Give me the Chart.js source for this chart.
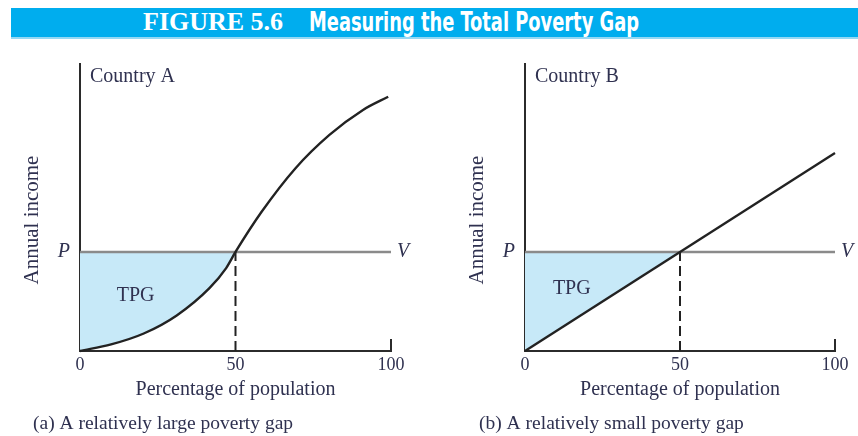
<!DOCTYPE html>
<html><head><meta charset="utf-8">
<script src="https://cdn.jsdelivr.net/npm/chart.js@4.4.1/dist/chart.umd.min.js"></script>
<style>
html,body{margin:0;padding:0;background:#fff;}
#wrap{position:relative;width:858px;height:436px;overflow:hidden;background:#fff;}
#banner{position:absolute;left:11px;top:8px;width:847px;height:29px;background:#00adee;border-bottom:2px solid #94d8f4;}
.bt{position:absolute;color:#fff;white-space:nowrap;line-height:26px;}
#fig{left:143px;top:7px;font:bold 26px "Liberation Serif",serif;}
#ttl{left:309px;top:7px;font:bold 26px "Liberation Sans Narrow","DejaVu Sans Condensed","Liberation Sans",sans-serif;transform-origin:0 50%;}
canvas{position:absolute;top:0;}
</style></head>
<body><div id="wrap">
<div id="banner"></div>
<span class="bt" id="fig">FIGURE 5.6</span>
<span class="bt" id="ttl">Measuring the Total Poverty Gap</span>
<canvas id="cA" width="429" height="436" style="left:0"></canvas>
<canvas id="cB" width="429" height="436" style="left:429px"></canvas>
</div>
<script>
// ---- data ----
const xTickValues = [0, 50, 100];
const povertyLine = 34.5;          // P
const povertyShare = 50;           // % of population below P
const lineEndsX = [0, 100];
const popA = [0, 10, 20.5, 31.1, 41.7, 47, 50, 58.4, 69.3, 80.2, 91, 99.1];
const incomeA = [0, 2.3, 6.1, 12.4, 22.0, 28.9, 34.5, 48.5, 63.7, 75.3, 84.0, 88.6];
const popB = [0, 50, 100];
const incomeB = [0, 34.5, 69];

// ---- styles ----
const TEXT = '#2f3150';
const AXIS = '#2b2b2b';
const FILL = '#c7e9f8';
const SERIF = '"Liberation Serif", "Times New Roman", serif';

// scale banner title to width
(function(){
  const t = document.getElementById('ttl');
  const w = t.getBoundingClientRect().width;
  t.style.transform = 'scaleX(' + (330 / w) + ')';
})();

function pts(xs, ys){ return xs.map((x,i)=>({x, y: ys[i]})); }

const annot = {
  id: 'annot',
  afterDraw(chart, args, o) {
    const {ctx, chartArea: ca, scales: {x, y}} = chart;
    ctx.save();
    // closing tick at 100
    ctx.strokeStyle = AXIS; ctx.lineWidth = 2;
    const px = Math.round(x.getPixelForValue(100));
    ctx.beginPath(); ctx.moveTo(px, ca.bottom + 1); ctx.lineTo(px, ca.bottom - 12); ctx.stroke();
    ctx.fillStyle = TEXT;
    ctx.textAlign = 'left'; ctx.textBaseline = 'alphabetic';
    ctx.font = '20px ' + SERIF;
    ctx.fillText(o.country, ca.left + 10, ca.top + 18);
    ctx.fillText('TPG', x.getPixelForValue(o.tpg[0]), y.getPixelForValue(o.tpg[1]));
    ctx.font = 'italic 20px ' + SERIF;
    ctx.textAlign = 'center'; ctx.textBaseline = 'middle';
    ctx.fillText('V', x.getPixelForValue(100) + 12, y.getPixelForValue(povertyLine));
    ctx.save();
    ctx.translate(ca.left - 48, 220); ctx.rotate(-Math.PI / 2);
    ctx.font = '21px ' + SERIF;
    ctx.fillText('Annual income', 0, 0);
    ctx.restore();
    ctx.font = '19.5px ' + SERIF;
    ctx.textAlign = 'left'; ctx.textBaseline = 'alphabetic';
    ctx.fillText(o.caption, o.captionX, 429);
    ctx.restore();
  }
};

function makeChart(id, xs, ys, smooth, opts) {
  return new Chart(document.getElementById(id), {
    type: 'line',
    data: {
      datasets: [
        { data: pts(xs, ys), borderColor: '#222', borderWidth: 2.4, pointRadius: 0,
          cubicInterpolationMode: smooth ? 'monotone' : 'default', tension: 0,
          fill: { target: { value: povertyLine }, above: 'rgba(0,0,0,0)', below: FILL }, clip: false },
        { data: pts([povertyShare, povertyShare], [0, povertyLine]), borderColor: '#222', borderWidth: 2,
          borderDash: [10, 5], pointRadius: 0, fill: false, clip: false },
        { data: pts(lineEndsX, [povertyLine, povertyLine]), borderColor: '#8a8a8a', borderWidth: 2.5,
          pointRadius: 0, fill: false, clip: false }
      ]
    },
    options: {
      responsive: false, animation: false, devicePixelRatio: 1,
      layout: { padding: { left: 0, top: 64, right: opts.padRight, bottom: 0 } },
      plugins: { legend: { display: false }, tooltip: { enabled: false },
        filler: { drawTime: 'beforeDatasetsDraw' }, annot: opts },
      scales: {
        x: { type: 'linear', min: 0, max: 100,
          afterBuildTicks: s => { s.ticks = xTickValues.map(v => ({ value: v })); },
          ticks: { font: { family: SERIF, size: 18 }, color: TEXT, padding: 3, maxRotation: 0 },
          grid: { display: false, drawTicks: false },
          border: { display: true, color: AXIS, width: 2 },
          title: { display: true, text: 'Percentage of population', color: TEXT,
            font: { family: SERIF, size: 20 }, padding: { top: 0, bottom: 34 } },
          afterFit: s => { s.height = 85; } },
        y: { type: 'linear', min: 0, max: 100,
          afterBuildTicks: s => { s.ticks = [{ value: povertyLine }]; },
          ticks: { callback: () => 'P', font: { family: SERIF, size: 20, style: 'italic' }, color: TEXT, padding: 10 },
          grid: { display: false, drawTicks: false },
          border: { display: true, color: AXIS, width: 2 },
          afterFit: s => { s.width = opts.axisLeft; } }
      }
    },
    plugins: [annot]
  });
}

makeChart('cA', popA, incomeA, true, { country: 'Country A', tpg: [11.8, 17.4],
  caption: '(a) A relatively large poverty gap', captionX: 33, axisLeft: 80, padRight: 38 });
makeChart('cB', popB, incomeB, false, { country: 'Country B', tpg: [9, 19.9],
  caption: '(b) A relatively small poverty gap', captionX: 50, axisLeft: 96, padRight: 23 });
</script>
</body></html>
